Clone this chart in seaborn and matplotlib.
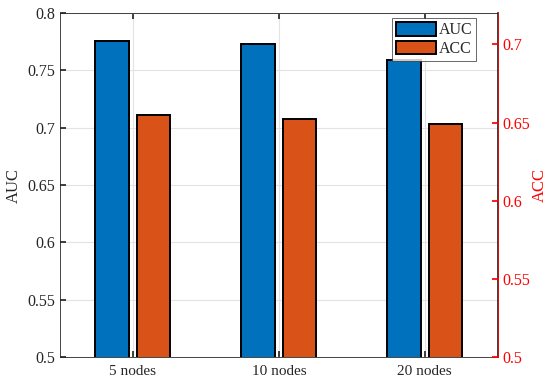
import pandas as pd
import seaborn as sns
import matplotlib.pyplot as plt
from matplotlib.patches import Patch

sns.set_theme(style='white')
plt.rcParams['font.family'] = ['Liberation Serif', 'DejaVu Serif']

nodes = ['5 nodes', '10 nodes', '20 nodes']
auc = [0.776, 0.773, 0.759]
acc = [0.655, 0.652, 0.649]

blue = '#0072BD'
orange = '#D95319'
red = '#FF0000'

auc_df = pd.DataFrame({'nodes': nodes, 'value': auc, 'metric': 'AUC'})
acc_df = pd.DataFrame({'nodes': nodes, 'value': acc, 'metric': 'ACC'})
pal = {'AUC': blue, 'ACC': orange}

fig, ax = plt.subplots(figsize=(5.5, 3.86), dpi=100)
fig.subplots_adjust(left=0.109, right=0.905, top=0.966, bottom=0.075)

bar_kw = dict(x='nodes', y='value', hue='metric', hue_order=['AUC', 'ACC'],
              palette=pal, dodge=True, width=0.57, gap=0.2, saturation=1,
              edgecolor='black', linewidth=1.4, legend=False, zorder=3)

sns.barplot(auc_df, ax=ax, **bar_kw)
ax.set_ylim(0.5, 0.8)
ax.set_xlim(-0.5, 2.5)
ax.set_yticks([0.5, 0.55, 0.6, 0.65, 0.7, 0.75, 0.8])
ax.set_yticklabels(['0.5', '0.55', '0.6', '0.65', '0.7', '0.75', '0.8'])
ax.set_xlabel('')
ax.set_ylabel('AUC', fontsize=12, color='#262626', labelpad=4)
ax.grid(True, color='#e3e3e3', linewidth=0.8, zorder=0)
ax.set_axisbelow(True)
ax.tick_params(axis='both', labelsize=11.5, direction='in', length=4, colors='#262626',
               top=True, bottom=True, left=True)
ax.tick_params(axis='x', labelsize=11, pad=6)
for s in ['left', 'top', 'bottom']:
    ax.spines[s].set_color('#262626')
    ax.spines[s].set_linewidth(0.6)

ax2 = ax.twinx()
sns.barplot(acc_df, ax=ax2, **bar_kw)
ax2.set_ylim(0.5, 0.72)
ax2.set_xlim(-0.5, 2.5)
ax2.set_yticks([0.5, 0.55, 0.6, 0.65, 0.7])
ax2.set_yticklabels(['0.5', '0.55', '0.6', '0.65', '0.7'])
ax2.set_xlabel('')
ax2.set_ylabel('ACC', fontsize=12, color=red, labelpad=1)
ax2.tick_params(axis='y', labelsize=11.5, direction='in', length=4, colors=red)
ax2.spines['right'].set_color(red)
ax2.spines['right'].set_linewidth(0.6)
for s in ['left', 'top', 'bottom']:
    ax2.spines[s].set_visible(False)

handles = [Patch(facecolor=blue, edgecolor='black', linewidth=1.4, label='AUC'),
           Patch(facecolor=orange, edgecolor='black', linewidth=1.4, label='ACC')]
leg = ax2.legend(handles=handles, loc='upper right', bbox_to_anchor=(0.962, 1.0),
                 fontsize=11.5, frameon=True, fancybox=False, edgecolor='#262626',
                 borderpad=0.25, handlelength=2.5, handleheight=0.95, handletextpad=0.2,
                 labelspacing=0.15, borderaxespad=0.3)
leg.get_frame().set_linewidth(0.6)

plt.savefig('out.png', dpi=100)
